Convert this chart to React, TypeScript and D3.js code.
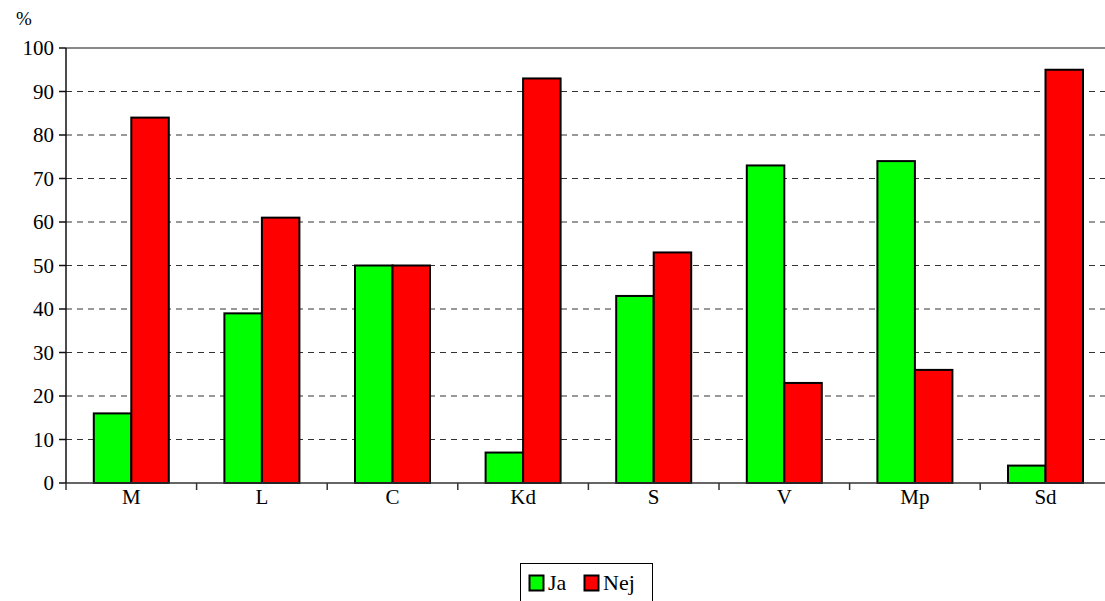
import React from "react";
import * as d3 from "d3";

const categories = ["M", "L", "C", "Kd", "S", "V", "Mp", "Sd"];
const jaValues = [16, 39, 50, 7, 43, 73, 74, 4];
const nejValues = [84, 61, 50, 93, 53, 23, 26, 95];
const yTicks = [0, 10, 20, 30, 40, 50, 60, 70, 80, 90, 100];
const seriesNames = ["Ja", "Nej"];
const seriesColors = ["#00ff00", "#ff0000"];

export default function App() {
  const W = 1105, H = 601;
  const left = 66, top = 48, bottom = 483;
  const band = 130.6;
  const right = left + band * categories.length;
  const x = d3.scaleBand<string>().domain(categories).range([left, right]).paddingInner(0).paddingOuter(0);
  const y = d3.scaleLinear().domain([0, 100]).range([bottom, top]);
  const barW = 37.5;
  const font = "Times New Roman";
  const series = [jaValues, nejValues];

  return (
    <svg width={W} height={H} fontFamily={font} style={{ position: "absolute", left: 0, top: 0 }}>
      <style>{`text { font-family: "Liberation Serif", serif; }`}</style>
      <rect x={0} y={0} width={W} height={H} fill="#fff" />
      {yTicks.map((t) =>
        t === 0 ? null : t === 100 ? (
          <line key={t} x1={left} x2={W} y1={y(t)} y2={y(t)} stroke="#888" strokeWidth={2} />
        ) : (
          <line key={t} x1={left} x2={W} y1={y(t)} y2={y(t)} stroke="#333" strokeWidth={1} strokeDasharray="6,5" />
        )
      )}
      {categories.map((c, i) => {
        const cx = (x(c) as number) + x.bandwidth() / 2;
        return series.map((vals, s) => (
          <rect
            key={c + s}
            x={cx - barW + s * barW}
            y={y(vals[i])}
            width={barW}
            height={bottom - y(vals[i])}
            fill={seriesColors[s]}
            stroke="#000"
            strokeWidth={2}
          />
        ));
      })}
      <line x1={left} x2={W} y1={bottom} y2={bottom} stroke="#333" strokeWidth={1.5} />
      <line x1={left} x2={left} y1={top} y2={bottom} stroke="#111" strokeWidth={1.5} />
      {yTicks.map((t) => (
        <line key={"ytl" + t} x1={left - 7} x2={left} y1={y(t)} y2={y(t)} stroke="#111" strokeWidth={1.5} />
      ))}
      {yTicks.map((t) => (
        <text key={"yt" + t} x={left - 12} y={y(t) + 7} textAnchor="end" fontFamily={font} fontSize={21} fill="#000">
          {t}
        </text>
      ))}
      {categories.map((c) => (
        <line key={"xt" + c} x1={x(c) as number} x2={x(c) as number} y1={bottom} y2={bottom + 7} stroke="#333" strokeWidth={1.5} />
      ))}
      {categories.map((c) => (
        <text key={"xl" + c} x={(x(c) as number) + x.bandwidth() / 2} y={504} textAnchor="middle" fontFamily={font} fontSize={21} fill="#000">
          {c}
        </text>
      ))}
      <text x={16} y={25} fontFamily={font} fontSize={19} fill="#000">%</text>
      <rect x={520.5} y={563.5} width={132} height={50} fill="#fff" stroke="#000" strokeWidth={1} />
      {seriesNames.map((n, s) => (
        <rect key={"lr" + n} x={529.5 + s * 55} y={575.5} width={14} height={15} fill={seriesColors[s]} stroke="#000" strokeWidth={2} />
      ))}
      {seriesNames.map((n, s) => (
        <text key={"lt" + n} x={548 + s * 55} y={590} fontFamily={font} fontSize={22} fill="#000">{n}</text>
      ))}
    </svg>
  );
}
